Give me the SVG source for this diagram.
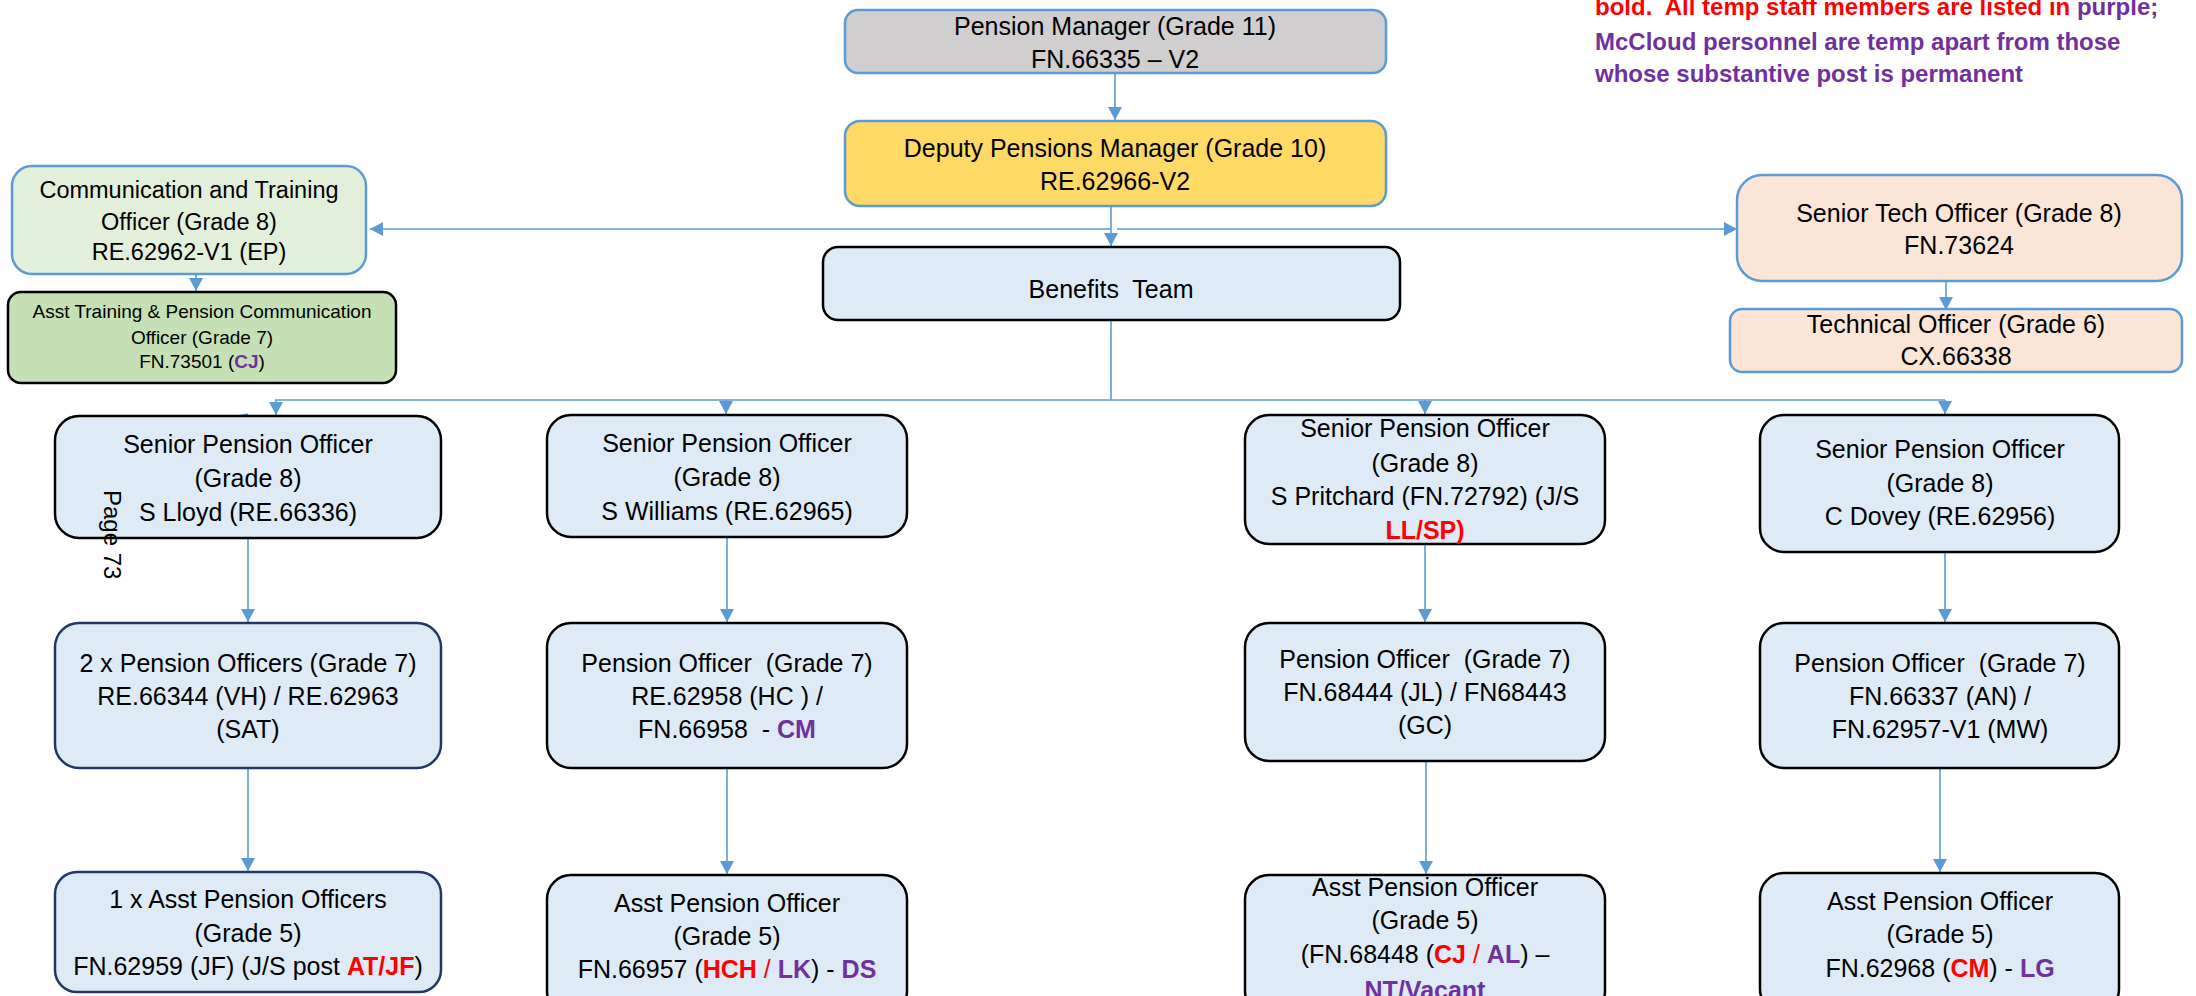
<svg xmlns="http://www.w3.org/2000/svg" width="2196" height="996" viewBox="0 0 2196 996">
<style>
.t{font-family:"Liberation Sans",Arial,sans-serif;font-size:25px;fill:#000;text-anchor:middle;white-space:pre}
.s{font-size:23.5px}
.xs{font-size:19px}
.r{fill:#ff0000;font-weight:bold}
.rn{fill:#ff0000}
.p{fill:#7030a0;font-weight:bold}
.lg{font-family:"Liberation Sans",Arial,sans-serif;font-size:24px;font-weight:bold;fill:#ff0000;white-space:pre}
.bx{fill:#deebf7;stroke:#000;stroke-width:2.5}
.bn{fill:#deebf7;stroke:#1f3864;stroke-width:2.5}
.bb{stroke:#5b9bd5;stroke-width:2.5}
.c{stroke:#5b9bd5;stroke-width:1.6;fill:none}
.ca{stroke:#5b9bd5;stroke-width:1.6;fill:none;marker-end:url(#ah)}
</style>
<defs>
<marker id="ah" markerUnits="userSpaceOnUse" markerWidth="14" markerHeight="14" refX="13" refY="7" orient="auto">
<path d="M0,0 L13,7 L0,14 z" fill="#5b9bd5"/>
</marker>
</defs>

<g id="legend">
<text class="lg" x="1595" y="15">bold.  All temp staff members are listed in <tspan fill="#7030a0">purple;</tspan></text>
<text class="lg" x="1595" y="50" fill="#7030a0" style="fill:#7030a0">McCloud personnel are temp apart from those</text>
<text class="lg" x="1595" y="82" style="fill:#7030a0">whose substantive post is permanent</text>
</g>

<g id="connectors">
<line class="ca" x1="1115" y1="74" x2="1115" y2="120"/>
<line class="ca" x1="1111" y1="206" x2="1111" y2="246"/>
<line class="ca" x1="1111" y1="229" x2="370" y2="229"/>
<line class="ca" x1="1117" y1="229" x2="1737" y2="229"/>
<line class="ca" x1="196" y1="274" x2="196" y2="291"/>
<line class="ca" x1="1946" y1="274" x2="1946" y2="310"/>
<line class="c" x1="1111" y1="312" x2="1111" y2="400"/>
<line class="c" x1="275" y1="400" x2="1945" y2="400"/>
<line class="ca" x1="276" y1="400" x2="276" y2="415"/>
<line class="ca" x1="726" y1="400" x2="726" y2="414"/>
<line class="ca" x1="1425" y1="400" x2="1425" y2="414"/>
<line class="ca" x1="1945" y1="400" x2="1945" y2="414"/>
<line class="c" x1="234" y1="417" x2="248" y2="414"/>
<line class="ca" x1="248" y1="539" x2="248" y2="622"/>
<line class="ca" x1="727" y1="538" x2="727" y2="622"/>
<line class="ca" x1="1425" y1="545" x2="1425" y2="622"/>
<line class="ca" x1="1945" y1="553" x2="1945" y2="622"/>
<line class="ca" x1="248" y1="769" x2="248" y2="871"/>
<line class="ca" x1="727" y1="769" x2="727" y2="874"/>
<line class="ca" x1="1426" y1="762" x2="1426" y2="874"/>
<line class="ca" x1="1940" y1="769" x2="1940" y2="872"/>
</g>

<g id="pension-manager">
<rect class="bb" x="845" y="10" width="541" height="63" rx="13" fill="#d0cece"/>
<text class="t" x="1115" y="35">Pension Manager (Grade 11)</text>
<text class="t" x="1115" y="68">FN.66335 – V2</text>
</g>

<g id="deputy-manager">
<rect class="bb" x="845" y="121" width="541" height="85" rx="15" fill="#ffd966"/>
<text class="t" x="1115" y="157">Deputy Pensions Manager (Grade 10)</text>
<text class="t" x="1115" y="190">RE.62966-V2</text>
</g>

<g id="benefits-team">
<rect class="bx" x="823" y="247" width="577" height="73" rx="15"/>
<text class="t" x="1111" y="298">Benefits  Team</text>
</g>

<g id="comm-training">
<rect class="bb" x="12" y="166" width="354" height="108" rx="20" fill="#e2efda"/>
<text class="t s" x="189" y="198">Communication and Training</text>
<text class="t s" x="189" y="230">Officer (Grade 8)</text>
<text class="t s" x="189" y="260">RE.62962-V1 (EP)</text>
</g>

<g id="asst-training">
<rect x="8" y="292" width="388" height="91" rx="13" fill="#c5e0b4" stroke="#000" stroke-width="2.5"/>
<text class="t xs" x="202" y="318">Asst Training &amp; Pension Communication</text>
<text class="t xs" x="202" y="344">Officer (Grade 7)</text>
<text class="t xs" x="202" y="368">FN.73501 (<tspan class="p">CJ</tspan>)</text>
</g>

<g id="senior-tech">
<rect class="bb" x="1737" y="175" width="445" height="106" rx="25" fill="#fbe5d6"/>
<text class="t" x="1959" y="222">Senior Tech Officer (Grade 8)</text>
<text class="t" x="1959" y="254">FN.73624</text>
</g>

<g id="technical-officer">
<rect class="bb" x="1730" y="309" width="452" height="63" rx="12" fill="#fbe5d6"/>
<text class="t" x="1956" y="333">Technical Officer (Grade 6)</text>
<text class="t" x="1956" y="365">CX.66338</text>
</g>

<g id="spo-lloyd">
<rect class="bx" x="55" y="416" width="386" height="122" rx="24"/>
<text class="t" x="248" y="453">Senior Pension Officer</text>
<text class="t" x="248" y="487">(Grade 8)</text>
<text class="t" x="248" y="521">S Lloyd (RE.66336)</text>
</g>

<g id="spo-williams">
<rect class="bx" x="547" y="415" width="360" height="122" rx="24"/>
<text class="t" x="727" y="452">Senior Pension Officer</text>
<text class="t" x="727" y="486">(Grade 8)</text>
<text class="t" x="727" y="520">S Williams (RE.62965)</text>
</g>

<g id="spo-pritchard">
<rect class="bx" x="1245" y="415" width="360" height="129" rx="24"/>
<text class="t" x="1425" y="437">Senior Pension Officer</text>
<text class="t" x="1425" y="472">(Grade 8)</text>
<text class="t" x="1425" y="505">S Pritchard (FN.72792) (J/S</text>
<text class="t r" x="1425" y="539">LL/SP)</text>
</g>

<g id="spo-dovey">
<rect class="bx" x="1760" y="415" width="359" height="137" rx="24"/>
<text class="t" x="1940" y="458">Senior Pension Officer</text>
<text class="t" x="1940" y="492">(Grade 8)</text>
<text class="t" x="1940" y="525">C Dovey (RE.62956)</text>
</g>

<g id="po-col1">
<rect class="bn" x="55" y="623" width="386" height="145" rx="24"/>
<text class="t" x="248" y="672">2 x Pension Officers (Grade 7)</text>
<text class="t" x="248" y="705">RE.66344 (VH) / RE.62963</text>
<text class="t" x="248" y="738">(SAT)</text>
</g>

<g id="po-col2">
<rect class="bx" x="547" y="623" width="360" height="145" rx="24"/>
<text class="t" x="727" y="672">Pension Officer  (Grade 7)</text>
<text class="t" x="727" y="705">RE.62958 (HC ) /</text>
<text class="t" x="727" y="738">FN.66958  - <tspan class="p">CM</tspan></text>
</g>

<g id="po-col3">
<rect class="bx" x="1245" y="623" width="360" height="138" rx="24"/>
<text class="t" x="1425" y="668">Pension Officer  (Grade 7)</text>
<text class="t" x="1425" y="701">FN.68444 (JL) / FN68443</text>
<text class="t" x="1425" y="734">(GC)</text>
</g>

<g id="po-col4">
<rect class="bx" x="1760" y="623" width="359" height="145" rx="24"/>
<text class="t" x="1940" y="672">Pension Officer  (Grade 7)</text>
<text class="t" x="1940" y="705">FN.66337 (AN) /</text>
<text class="t" x="1940" y="738">FN.62957-V1 (MW)</text>
</g>

<g id="apo-col1">
<rect class="bn" x="55" y="872" width="386" height="120" rx="22"/>
<text class="t" x="248" y="908">1 x Asst Pension Officers</text>
<text class="t" x="248" y="942">(Grade 5)</text>
<text class="t" x="248" y="975">FN.62959 (JF) (J/S post <tspan class="r">AT/JF</tspan>)</text>
</g>

<g id="apo-col2">
<rect class="bx" x="547" y="875" width="360" height="140" rx="24"/>
<text class="t" x="727" y="912">Asst Pension Officer</text>
<text class="t" x="727" y="945">(Grade 5)</text>
<text class="t" x="727" y="978">FN.66957 (<tspan class="r">HCH</tspan><tspan class="rn"> / </tspan><tspan class="p">LK</tspan>) - <tspan class="p">DS</tspan></text>
</g>

<g id="apo-col3">
<rect class="bx" x="1245" y="875" width="360" height="140" rx="24"/>
<text class="t" x="1425" y="896">Asst Pension Officer</text>
<text class="t" x="1425" y="929">(Grade 5)</text>
<text class="t" x="1425" y="963">(FN.68448 (<tspan class="r">CJ</tspan><tspan class="rn"> / </tspan><tspan class="p">AL</tspan>) –</text>
<text class="t p" x="1425" y="999">NT/Vacant</text>
</g>

<g id="apo-col4">
<rect class="bx" x="1760" y="873" width="359" height="140" rx="24"/>
<text class="t" x="1940" y="910">Asst Pension Officer</text>
<text class="t" x="1940" y="943">(Grade 5)</text>
<text class="t" x="1940" y="977">FN.62968 (<tspan class="r">CM</tspan>) - <tspan class="p">LG</tspan></text>
</g>

<g id="page-number">
<text x="104" y="490" transform="rotate(90 104 490)" style="font-family:'Liberation Sans',Arial,sans-serif;font-size:24px;fill:#000">Page 73</text>
</g>
</svg>
